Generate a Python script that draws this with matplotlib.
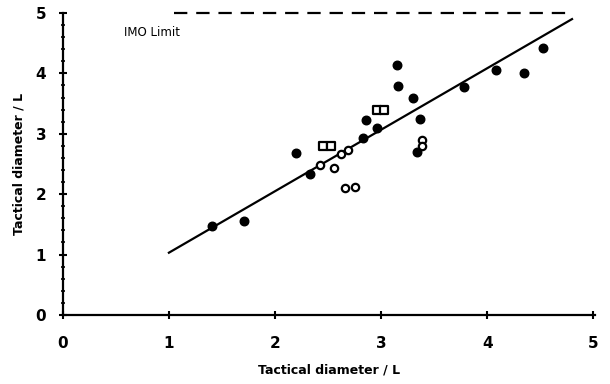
import matplotlib
matplotlib.use("Agg")
import matplotlib.pyplot as plt
from matplotlib.ticker import MultipleLocator

# filled markers
filled_x = [1.41, 1.71, 2.20, 2.33, 2.86, 2.83, 2.96, 3.15, 3.16, 3.30, 3.37, 3.34, 3.78, 4.08, 4.35, 4.53]
filled_y = [1.47, 1.55, 2.68, 2.33, 3.23, 2.93, 3.10, 4.14, 3.79, 3.59, 3.24, 2.70, 3.77, 4.05, 4.00, 4.42]

# open circles
circ_x = [2.42, 2.56, 2.62, 2.69, 2.66, 2.75, 3.39, 3.39]
circ_y = [2.48, 2.43, 2.67, 2.73, 2.10, 2.12, 2.90, 2.79]

# open squares
sq_x = [2.45, 2.53, 2.96, 3.03]
sq_y = [2.79, 2.79, 3.39, 3.39]

# regression line and IMO limit
fit_x = [1.0, 4.8]
fit_y = [1.03, 4.9]
imo_x = [1.05, 4.78]
imo_y = [5.0, 5.0]

fig = plt.figure(figsize=(6.1, 3.84), dpi=100)
ax = fig.add_axes([0.103, 0.18, 0.873, 0.786])

ax.plot(fit_x, fit_y, color='k', lw=1.6)
ax.plot(imo_x, imo_y, color='k', lw=1.6, ls=(0, (6, 4)), clip_on=False)
ax.scatter(filled_x, filled_y, s=38, c='k', marker='o', zorder=3)
ax.scatter(circ_x, circ_y, s=28, facecolors='w', edgecolors='k', linewidths=1.6, marker='o', zorder=4)
ax.scatter(sq_x, sq_y, s=36, facecolors='w', edgecolors='k', linewidths=1.6, marker='s', zorder=4)

ax.text(0.58, 4.67, "IMO Limit", fontsize=8.5, va='center', ha='left')

ax.set_xlim(0, 5.02)
ax.set_ylim(0, 5)
ax.spines['top'].set_visible(False)
ax.spines['right'].set_visible(False)
ax.spines['left'].set_linewidth(1.6)
ax.spines['bottom'].set_linewidth(1.6)

ax.xaxis.set_major_locator(MultipleLocator(1))
ax.yaxis.set_major_locator(MultipleLocator(1))
ax.yaxis.set_minor_locator(MultipleLocator(0.2))
ax.tick_params(axis='both', which='major', direction='inout', length=6, width=1.5, labelsize=11)
ax.tick_params(axis='y', which='minor', direction='inout', length=3, width=1.2)
ax.tick_params(axis='x', pad=12)
ax.tick_params(axis='y', pad=9)
for lab in ax.get_xticklabels() + ax.get_yticklabels():
    lab.set_fontweight('bold')

ax.set_xlabel("Tactical diameter / L", fontsize=9, fontweight='bold', labelpad=9)
ax.set_ylabel("Tactical diameter / L", fontsize=9, fontweight='bold', labelpad=7)

fig.savefig("out.png", dpi=100)
